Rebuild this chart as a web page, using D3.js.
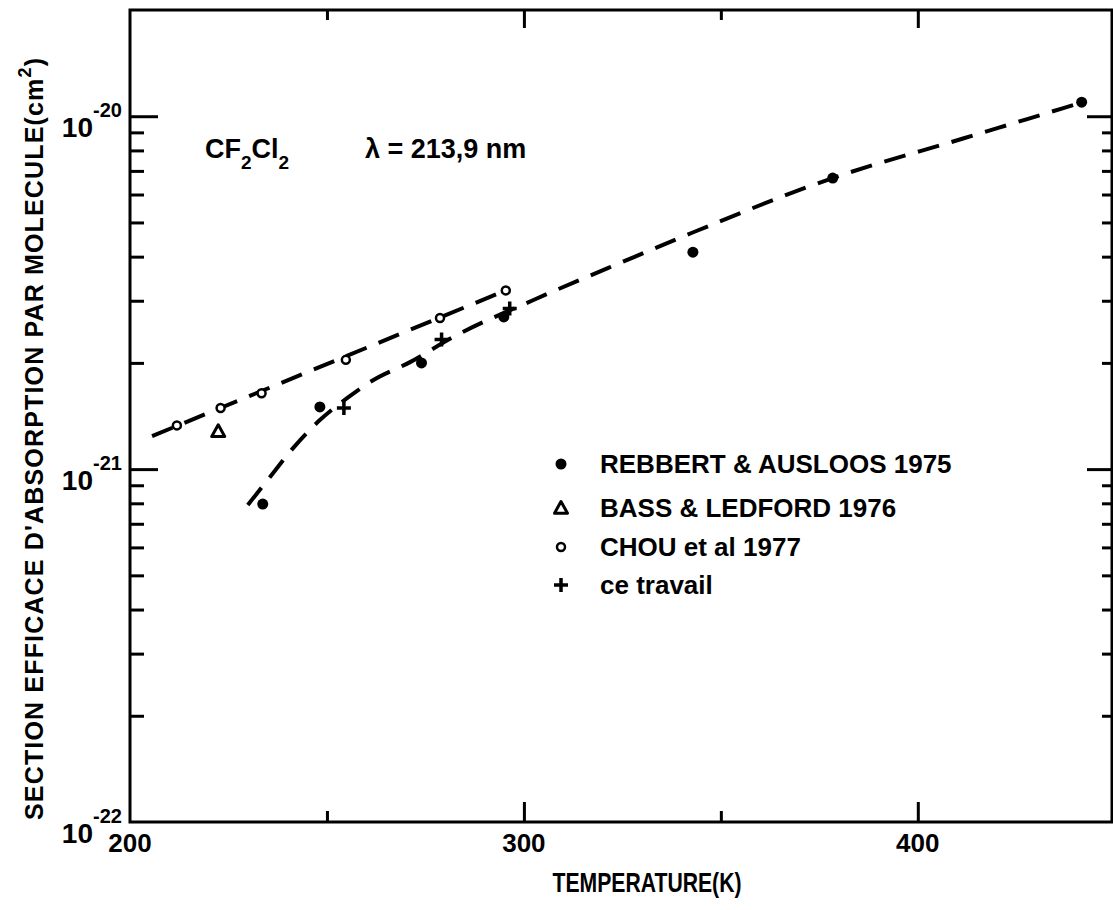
<!DOCTYPE html>
<html>
<head>
<meta charset="utf-8">
<script src="https://cdn.jsdelivr.net/npm/d3@7"></script>
<style>
  html, body { margin: 0; padding: 0; background: #fff; }
  svg { display: block; }
  text { font-family: "Liberation Sans", "DejaVu Sans", sans-serif; font-weight: bold; fill: #000; }
</style>
</head>
<body>
<svg id="chart" width="1113" height="910"></svg>
<script>
// ---- data ----
const rebbertT     = [233.7, 248.2, 274.0, 294.9, 342.9, 378.4, 441.6];
const rebbertSigma = [7.96e-22, 1.50e-21, 2.00e-21, 2.70e-21, 4.12e-21, 6.68e-21, 1.096e-20];
const bassT        = [222.4];
const bassSigma    = [1.28e-21];
const chouT        = [211.9, 223.0, 233.4, 254.8, 278.7, 295.4];
const chouSigma    = [1.33e-21, 1.49e-21, 1.64e-21, 2.04e-21, 2.68e-21, 3.21e-21];
const travailT     = [254.3, 279.1, 296.4];
const travailSigma = [1.49e-21, 2.33e-21, 2.85e-21];
// dashed curves
const fitChouT     = [205.6, 295.4];
const fitChouSigma = [1.24e-21, 3.21e-21];
const fitMainT     = [229.9, 235.5, 241.4, 248.2, 255.1, 261.7, 271.1, 282.0, 302.3, 326.1, 342.4, 378.4, 411.7, 441.9];
const fitMainSigma = [7.91e-22, 9.49e-22, 1.147e-21, 1.377e-21, 1.589e-21, 1.786e-21, 2.01e-21, 2.366e-21, 3.01e-21, 3.91e-21, 4.66e-21, 6.68e-21, 8.66e-21, 1.096e-20];
// ticks
const xMajorTicks = [300, 400];
const xMinorTicks = [250, 350];
const xTickLabels = [200, 300, 400];
const yDecades    = [1e-22, 1e-21, 1e-20];
const yDecadeLabels = ["-22", "-21", "-20"];
const legendLabels = ["REBBERT & AUSLOOS 1975", "BASS & LEDFORD 1976", "CHOU et al 1977", "ce travail"];
const legendKinds  = ["dot", "triangle", "circle", "plus"];

// ---- scales ----
const svg = d3.select("#chart");
const x = d3.scaleLinear().domain([200, 449.3]).range([130, 1112]);
const y = d3.scaleLog().domain([1e-22, 2e-20]).range([822, 10]);

const yMinor = [];
[1e-22, 1e-21, 1e-20].forEach(d => { for (let k = 2; k <= 9; k++) { const v = d * k; if (v < 2e-20) yMinor.push(v); } });
yMinor.splice(yMinor.indexOf(1e-20*2 ) , 0);

// ---- frame ----
const frame = svg.append("g");
frame.append("rect")
  .attr("x", x(200)).attr("y", y(2e-20))
  .attr("width", x(449.3) - x(200)).attr("height", y(1e-22) - y(2e-20))
  .attr("fill", "none").attr("stroke", "#000").attr("stroke-width", 3);

function styleAxis(g) {
  g.select(".domain").remove();
  g.selectAll(".tick line").attr("stroke", "#000").attr("stroke-width", 3);
  g.selectAll(".tick text").remove();
}
// left axis, ticks inward
svg.append("g").attr("transform", `translate(${x(200)},0)`)
  .call(d3.axisRight(y).tickValues(yMinor.filter(v => v < 1.9e-20)).tickSize(14).tickFormat("")).call(styleAxis);
svg.append("g").attr("transform", `translate(${x(200)},0)`)
  .call(d3.axisRight(y).tickValues(yDecades.slice(1)).tickSize(28).tickFormat("")).call(styleAxis);
// right axis
svg.append("g").attr("transform", `translate(${x(449.3)},0)`)
  .call(d3.axisLeft(y).tickValues(yMinor.filter(v => v < 1.9e-20)).tickSize(10).tickFormat("")).call(styleAxis);
svg.append("g").attr("transform", `translate(${x(449.3)},0)`)
  .call(d3.axisLeft(y).tickValues(yDecades.slice(1)).tickSize(25).tickFormat("")).call(styleAxis);
// bottom axis, ticks upward
svg.append("g").attr("transform", `translate(0,${y(1e-22)})`)
  .call(d3.axisTop(x).tickValues(xMinorTicks).tickSize(11).tickFormat("")).call(styleAxis);
svg.append("g").attr("transform", `translate(0,${y(1e-22)})`)
  .call(d3.axisTop(x).tickValues(xMajorTicks).tickSize(20).tickFormat("")).call(styleAxis);
// top axis, ticks downward
svg.append("g").attr("transform", `translate(0,${y(2e-20)})`)
  .call(d3.axisBottom(x).tickValues(xMinorTicks).tickSize(10).tickFormat("")).call(styleAxis);
svg.append("g").attr("transform", `translate(0,${y(2e-20)})`)
  .call(d3.axisBottom(x).tickValues(xMajorTicks).tickSize(18).tickFormat("")).call(styleAxis);

// ---- tick labels ----
yDecades.forEach((d, i) => {
  const ty = y(d);
  svg.append("text").attr("x", 93).attr("y", ty + 21).attr("text-anchor", "end")
    .attr("font-size", 28).text("10");
  svg.append("text").attr("x", 93).attr("y", ty + 1).attr("text-anchor", "start")
    .attr("font-size", 20).text(yDecadeLabels[i]);
});
xTickLabels.forEach(t => {
  svg.append("text").attr("x", x(t)).attr("y", 852).attr("text-anchor", "middle")
    .attr("font-size", 26).text(t);
});

// ---- axis titles ----
svg.append("text").attr("x", 647).attr("y", 892).attr("text-anchor", "middle")
  .attr("font-size", 28).attr("textLength", 189).attr("lengthAdjust", "spacingAndGlyphs")
  .text("TEMPERATURE(K)");
const yt = svg.append("text").attr("transform", "translate(43,439) rotate(-90)")
  .attr("text-anchor", "middle").attr("font-size", 25)
  .attr("textLength", 762).attr("lengthAdjust", "spacing");
yt.append("tspan").text("SECTION EFFICACE D'ABSORPTION PAR MOLECULE(cm");
yt.append("tspan").attr("dy", -12).attr("font-size", 18).text("2");
yt.append("tspan").attr("dy", 12).text(")");

// ---- annotations ----
const ann = svg.append("text").attr("x", 205).attr("y", 158).attr("font-size", 27);
ann.append("tspan").text("CF");
ann.append("tspan").attr("dy", 11).attr("font-size", 19).text("2");
ann.append("tspan").attr("dy", -11).text("Cl");
ann.append("tspan").attr("dy", 11).attr("font-size", 19).text("2");
svg.append("text").attr("x", 365).attr("y", 158).attr("font-size", 27).text("λ = 213,9 nm");

// ---- dashed lines ----
const line = d3.line().x(d => x(d[0])).y(d => y(d[1])).curve(d3.curveMonotoneX);
svg.append("path").datum(fitChouT.map((t, i) => [t, fitChouSigma[i]]))
  .attr("d", line).attr("fill", "none").attr("stroke", "#000").attr("stroke-width", 4)
  .attr("stroke-dasharray", "22,13");
svg.append("path").datum(fitMainT.map((t, i) => [t, fitMainSigma[i]]))
  .attr("d", line).attr("fill", "none").attr("stroke", "#000").attr("stroke-width", 4)
  .attr("stroke-dasharray", "22,13");

// ---- markers ----
function drawMarker(g, kind, cx, cy) {
  if (kind === "dot") {
    g.append("circle").attr("cx", cx).attr("cy", cy).attr("r", 5.5).attr("fill", "#000");
  } else if (kind === "circle") {
    g.append("circle").attr("cx", cx).attr("cy", cy).attr("r", 4).attr("fill", "#fff")
      .attr("stroke", "#000").attr("stroke-width", 2.5);
  } else if (kind === "triangle") {
    const s = 6.5;
    g.append("path").attr("d", `M${cx},${cy - s} L${cx + s},${cy + s * 0.8} L${cx - s},${cy + s * 0.8} Z`)
      .attr("fill", "#fff").attr("stroke", "#000").attr("stroke-width", 3).attr("stroke-linejoin", "round");
  } else if (kind === "plus") {
    const s = 7;
    g.append("path").attr("d", `M${cx - s},${cy} L${cx + s},${cy} M${cx},${cy - s} L${cx},${cy + s}`)
      .attr("stroke", "#000").attr("stroke-width", 3.5);
  }
}
const mk = svg.append("g");
rebbertT.forEach((t, i) => drawMarker(mk, "dot", x(t), y(rebbertSigma[i])));
bassT.forEach((t, i) => drawMarker(mk, "triangle", x(t), y(bassSigma[i])));
chouT.forEach((t, i) => drawMarker(mk, "circle", x(t), y(chouSigma[i])));
travailT.forEach((t, i) => drawMarker(mk, "plus", x(t), y(travailSigma[i])));

// ---- legend ----
const legendRowY = [464, 508, 547, 585];
const lg = svg.append("g");
legendLabels.forEach((lab, i) => {
  drawMarker(lg, legendKinds[i], 561, legendRowY[i]);
  lg.append("text").attr("x", 600).attr("y", legendRowY[i] + 9).attr("font-size", 26).text(lab);
});
</script>
</body>
</html>
